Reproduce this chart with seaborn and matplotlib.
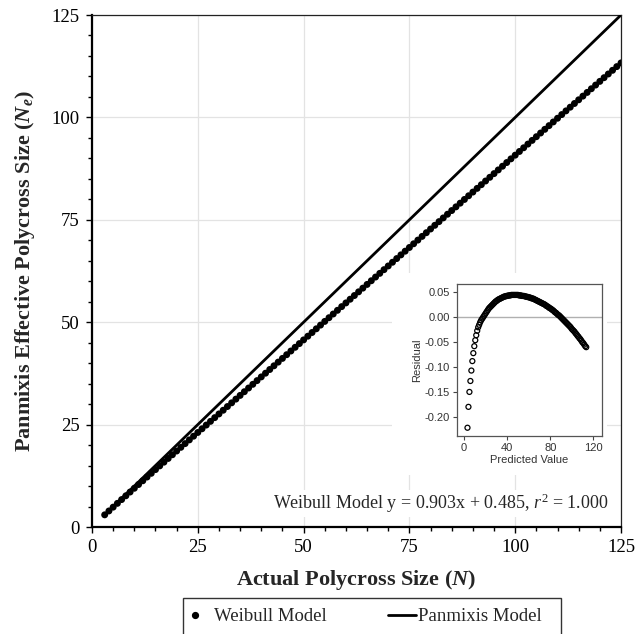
import numpy as np
import pandas as pd
import matplotlib
matplotlib.use("Agg")
import matplotlib.pyplot as plt
import seaborn as sns
from matplotlib.lines import Line2D
from matplotlib.patches import Rectangle
from matplotlib.ticker import MultipleLocator, FormatStrFormatter
from matplotlib.legend_handler import HandlerLine2D

# ---------------- data ----------------
N = [3, 4, 5, 6, 7, 8, 9, 10, 11, 12, 13, 14, 15, 16, 17, 18, 19, 20, 21, 22,
     23, 24, 25, 26, 27, 28, 29, 30, 31, 32, 33, 34, 35, 36, 37, 38, 39, 40, 41, 42,
     43, 44, 45, 46, 47, 48, 49, 50, 51, 52, 53, 54, 55, 56, 57, 58, 59, 60, 61, 62,
     63, 64, 65, 66, 67, 68, 69, 70, 71, 72, 73, 74, 75, 76, 77, 78, 79, 80, 81, 82,
     83, 84, 85, 86, 87, 88, 89, 90, 91, 92, 93, 94, 95, 96, 97, 98, 99, 100, 101, 102,
     103, 104, 105, 106, 107, 108, 109, 110, 111, 112, 113, 114, 115, 116, 117, 118, 119, 120, 121, 122,
     123, 124, 125]

panmixis_ne = [3, 4, 5, 6, 7, 8, 9, 10, 11, 12, 13, 14, 15, 16, 17, 18, 19, 20, 21, 22,
               23, 24, 25, 26, 27, 28, 29, 30, 31, 32, 33, 34, 35, 36, 37, 38, 39, 40, 41, 42,
               43, 44, 45, 46, 47, 48, 49, 50, 51, 52, 53, 54, 55, 56, 57, 58, 59, 60, 61, 62,
               63, 64, 65, 66, 67, 68, 69, 70, 71, 72, 73, 74, 75, 76, 77, 78, 79, 80, 81, 82,
               83, 84, 85, 86, 87, 88, 89, 90, 91, 92, 93, 94, 95, 96, 97, 98, 99, 100, 101, 102,
               103, 104, 105, 106, 107, 108, 109, 110, 111, 112, 113, 114, 115, 116, 117, 118, 119, 120, 121, 122,
               123, 124, 125]

weibull_pred = [3.194, 4.097, 5.000, 5.903, 6.806, 7.709, 8.612, 9.515, 10.418, 11.321,
                12.224, 13.127, 14.030, 14.933, 15.836, 16.739, 17.642, 18.545, 19.448, 20.351,
                21.254, 22.157, 23.060, 23.963, 24.866, 25.769, 26.672, 27.575, 28.478, 29.381,
                30.284, 31.187, 32.090, 32.993, 33.896, 34.799, 35.702, 36.605, 37.508, 38.411,
                39.314, 40.217, 41.120, 42.023, 42.926, 43.829, 44.732, 45.635, 46.538, 47.441,
                48.344, 49.247, 50.150, 51.053, 51.956, 52.859, 53.762, 54.665, 55.568, 56.471,
                57.374, 58.277, 59.180, 60.083, 60.986, 61.889, 62.792, 63.695, 64.598, 65.501,
                66.404, 67.307, 68.210, 69.113, 70.016, 70.919, 71.822, 72.725, 73.628, 74.531,
                75.434, 76.337, 77.240, 78.143, 79.046, 79.949, 80.852, 81.755, 82.658, 83.561,
                84.464, 85.367, 86.270, 87.173, 88.076, 88.979, 89.882, 90.785, 91.688, 92.591,
                93.494, 94.397, 95.300, 96.203, 97.106, 98.009, 98.912, 99.815, 100.718, 101.621,
                102.524, 103.427, 104.330, 105.233, 106.136, 107.039, 107.942, 108.845, 109.748, 110.651,
                111.554, 112.457, 113.360]

residual = [-0.222, -0.180, -0.150, -0.128, -0.107, -0.088, -0.072, -0.058, -0.046, -0.036,
            -0.027, -0.020, -0.015, -0.010, -0.006, -0.003, 0.000, 0.003, 0.006, 0.009,
            0.012, 0.015, 0.018, 0.020, 0.022, 0.024, 0.026, 0.028, 0.030, 0.032,
            0.033, 0.035, 0.036, 0.037, 0.038, 0.039, 0.040, 0.041, 0.042, 0.042,
            0.043, 0.043, 0.044, 0.044, 0.044, 0.045, 0.045, 0.045, 0.045, 0.045,
            0.045, 0.045, 0.045, 0.044, 0.044, 0.044, 0.043, 0.043, 0.043, 0.042,
            0.042, 0.041, 0.041, 0.040, 0.040, 0.039, 0.038, 0.038, 0.037, 0.036,
            0.035, 0.034, 0.033, 0.032, 0.031, 0.030, 0.029, 0.028, 0.027, 0.026,
            0.025, 0.023, 0.022, 0.021, 0.019, 0.018, 0.017, 0.015, 0.014, 0.012,
            0.010, 0.009, 0.007, 0.005, 0.004, 0.002, 0.000, -0.002, -0.004, -0.006,
            -0.008, -0.010, -0.012, -0.014, -0.016, -0.018, -0.020, -0.023, -0.025, -0.027,
            -0.029, -0.032, -0.034, -0.037, -0.039, -0.042, -0.044, -0.047, -0.050, -0.052,
            -0.055, -0.058, -0.060]

x_ticks = [0, 25, 50, 75, 100, 125]
y_ticks = [0, 25, 50, 75, 100, 125]
inset_x_ticks = [0, 40, 80, 120]
inset_y_ticks = [-0.20, -0.15, -0.10, -0.05, 0.00, 0.05]

weibull_ne = np.round(np.array(weibull_pred) + np.array(residual), 3)
df = pd.DataFrame({"N": N, "weibull": weibull_ne, "panmixis": panmixis_ne,
                   "pred": weibull_pred, "resid": residual})

# ---------------- style ----------------
sns.set_theme(style="ticks")
serif = ["Liberation Serif", "DejaVu Serif"]
plt.rcParams["font.family"] = serif
plt.rcParams["mathtext.fontset"] = "custom"
plt.rcParams["mathtext.rm"] = "Liberation Serif"
plt.rcParams["mathtext.it"] = "Liberation Serif:italic"
plt.rcParams["mathtext.bf"] = "Liberation Serif:bold"
plt.rcParams["mathtext.bfit"] = "Liberation Serif:italic:bold"
plt.rcParams["axes.unicode_minus"] = False

fig = plt.figure(figsize=(6.44, 6.34), dpi=100)
W, H = 644, 634
ax = fig.add_axes([92 / W, 1 - 527 / H, 529 / W, 512 / H])

sns.lineplot(data=df, x="N", y="panmixis", ax=ax, color="black", lw=2.0,
             zorder=3, legend=False)
sns.scatterplot(data=df, x="N", y="weibull", ax=ax, color="black", s=25,
                edgecolor="none", zorder=4, legend=False)

ax.set_xlim(0, 125)
ax.set_ylim(0, 125)
ax.set_xticks(x_ticks)
ax.set_yticks(y_ticks)
ax.xaxis.set_minor_locator(MultipleLocator(5))
ax.yaxis.set_minor_locator(MultipleLocator(5))
ax.tick_params(which="both", direction="out", color="black", width=1, labelsize=13.5,
               labelcolor="black")
ax.tick_params(which="major", length=4, pad=5)
ax.tick_params(which="minor", length=3)
ax.grid(True, which="major", color="#e3e3e3", lw=0.9)
ax.set_axisbelow(True)
for side in ["left", "bottom"]:
    ax.spines[side].set_linewidth(1.6)
    ax.spines[side].set_color("black")
for side in ["top", "right"]:
    ax.spines[side].set_linewidth(0.9)
    ax.spines[side].set_color("#222222")

ax.set_xlabel(r"Actual Polycross Size ($\mathbfit{N}$)", fontsize=16,
              fontweight="bold", labelpad=8)
ax.set_ylabel(r"Panmixis Effective Polycross Size ($\mathbfit{N}_{\mathbfit{e}}$)",
              fontsize=16, fontweight="bold", labelpad=10)

# white background behind inset area
ax.add_patch(Rectangle((392 / W, 1 - 475 / H), (607 - 392) / W, (475 - 273) / H,
                       transform=fig.transFigure, facecolor="white",
                       edgecolor="none", zorder=1))

ax.text(0.976, 0.046, r"Weibull Model y = 0.903x + 0.485, $\mathit{r}^{2}$ = 1.000",
        transform=ax.transAxes, ha="right", va="center", fontsize=13,
        bbox=dict(facecolor="white", edgecolor="none", pad=1.5), zorder=5)

# ---------------- inset ----------------
iax = fig.add_axes([456.7 / W, 1 - 435.7 / H, 145 / W, 151.7 / H])
iax.axhline(0, color="#b0b0b0", lw=1.0, zorder=1)
sns.scatterplot(data=df, x="pred", y="resid", ax=iax, facecolor="none",
                edgecolor="black", linewidth=0.9, s=13, marker="o", zorder=3,
                legend=False)
iax.set_xlim(-6.8, 127.7)
iax.set_ylim(-0.238, 0.067)
iax.set_xticks(inset_x_ticks)
iax.set_yticks(inset_y_ticks)
iax.yaxis.set_major_formatter(FormatStrFormatter("%.2f"))
sans = ["Liberation Sans", "DejaVu Sans"]
for lab in iax.get_xticklabels() + iax.get_yticklabels():
    lab.set_family(sans)
iax.tick_params(which="both", direction="out", length=3, width=0.8,
                color="#444444", labelsize=8, labelcolor="#333333", pad=2)
for s in iax.spines.values():
    s.set_color("#555555")
    s.set_linewidth(0.9)
iax.set_xlabel("Predicted Value", fontsize=8, family=sans, color="#333333", labelpad=2)
iax.set_ylabel("Residual", fontsize=8, family=sans, color="#333333", labelpad=2)
iax.grid(False)


# ---------------- legend ----------------
class LeftMarkerHandler(HandlerLine2D):
    def create_artists(self, legend, orig_handle, xdescent, ydescent, width,
                       height, fontsize, trans):
        arts = super().create_artists(legend, orig_handle, xdescent, ydescent,
                                      width, height, fontsize, trans)
        for a in arts:
            xd = np.asarray(a.get_xdata(), dtype=float)
            xm = xd[0] + 0.1 * (xd[-1] - xd[0])
            a.set_xdata(np.full_like(xd, xm))
        return arts


class LongLineHandler(HandlerLine2D):
    def create_artists(self, legend, orig_handle, xdescent, ydescent, width,
                       height, fontsize, trans):
        arts = super().create_artists(legend, orig_handle, xdescent, ydescent,
                                      width, height, fontsize, trans)
        for a in arts:
            xd = np.asarray(a.get_xdata(), dtype=float)
            a.set_xdata(np.linspace(xd[0] - 0.5 * fontsize, xd[-1], len(xd)))
        return arts


weib_handle = Line2D([], [], marker="o", color="black", ls="none", markersize=4.2)
pan_handle = Line2D([], [], color="black", lw=2.0)
handles = [weib_handle, pan_handle]
labels = ["Weibull Model", "Panmixis Model  "]
leg = fig.legend(handles, labels, loc="upper left",
                 bbox_to_anchor=(183 / W, 1 - 598 / H), ncol=2, fontsize=13.5,
                 frameon=True, fancybox=False, edgecolor="black",
                 handlelength=1.0, handletextpad=0.1, columnspacing=3.75,
                 borderpad=0.55, borderaxespad=0,
                 handler_map={weib_handle: LeftMarkerHandler(),
                              pan_handle: LongLineHandler()})
leg.get_frame().set_linewidth(1.0)

fig.savefig("out.png", dpi=100)
